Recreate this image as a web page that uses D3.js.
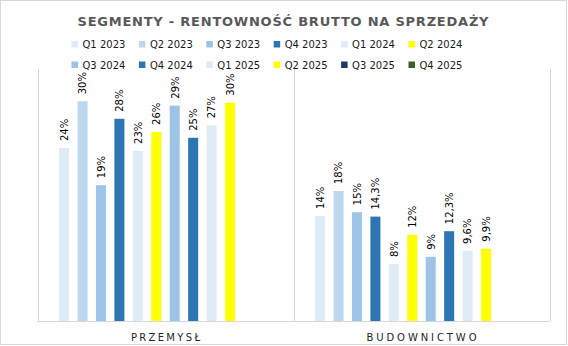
<!DOCTYPE html>
<html><head><meta charset="utf-8">
<script src="https://cdn.jsdelivr.net/npm/d3@7"></script>
<style>body{margin:0;background:#fff}svg{display:block}</style>
</head><body><svg id="c" width="568" height="346"></svg>
<script>
const categories = ["PRZEMYSŁ", "BUDOWNICTWO"];
const seriesNames = ["Q1 2023","Q2 2023","Q3 2023","Q4 2023","Q1 2024","Q2 2024","Q3 2024","Q4 2024","Q1 2025","Q2 2025","Q3 2025","Q4 2025"];
const seriesColors = ["#DEEBF7","#BDD7EE","#9DC3E6","#2E75B6","#DEEBF7","#FFFF00","#9DC3E6","#2E75B6","#DEEBF7","#FFFF00","#203864","#3A5F27"];
const przemyslValues = [23.7, 30.1, 18.6, 27.7, 23.3, 25.9, 29.5, 25.1, 26.8, 29.9, null, null];
const budownictwoValues = [14.4, 17.8, 14.9, 14.3, 7.8, 11.8, 8.8, 12.3, 9.6, 9.9, null, null];
const przemyslLabels = ["24%","30%","19%","28%","23%","26%","29%","25%","27%","30%","",""];
const budownictwoLabels = ["14%","18%","15%","14,3%","8%","12%","9%","12,3%","9,6%","9,9%","",""];
const yTicks = [0, 35];
const titleText = "SEGMENTY - RENTOWNOŚĆ BRUTTO NA SPRZEDAŻY";

const svg = d3.select("#c");
const font = "'DejaVu Sans', sans-serif";

svg.append("rect").attr("x",0.5).attr("y",0.5).attr("width",566).attr("height",344)
  .attr("fill","#fff").attr("stroke","#d9d9d9");

const x0 = d3.scaleBand().domain(categories).range([37.5, 549.5]);
const x1 = d3.scaleBand().domain(seriesNames).range([0, x0.bandwidth()]).paddingInner(0.457).paddingOuter(1.17);
const y = d3.scaleLinear().domain(yTicks).range([321, 321 - 35*7.3]);

// gridlines (category boundaries)
const bounds = categories.map(c => x0(c)).concat([x0(categories[categories.length-1]) + x0.bandwidth()]);
svg.append("g").selectAll("line").data(bounds).join("line")
  .attr("x1", d => Math.round(d)+0.5).attr("x2", d => Math.round(d)+0.5)
  .attr("y1", 69).attr("y2", 321).attr("stroke","#d9d9d9");
svg.append("line").attr("x1", bounds[0]).attr("x2", bounds[bounds.length-1])
  .attr("y1", 321.5).attr("y2", 321.5).attr("stroke","#d9d9d9");

const data = [];
categories.forEach((c, ci) => {
  const vals = ci === 0 ? przemyslValues : budownictwoValues;
  const labs = ci === 0 ? przemyslLabels : budownictwoLabels;
  seriesNames.forEach((s, si) => {
    if (vals[si] != null) data.push({c, s, si, v: vals[si], l: labs[si]});
  });
});

svg.append("g").selectAll("rect").data(data).join("rect")
  .attr("x", d => x0(d.c) + x1(d.s))
  .attr("y", d => y(d.v))
  .attr("width", x1.bandwidth())
  .attr("height", d => y(0) - y(d.v))
  .attr("fill", d => seriesColors[d.si]);

svg.append("g").selectAll("text").data(data).join("text")
  .attr("transform", d => `translate(${x0(d.c) + x1(d.s) + x1.bandwidth()/2 + 3.8},${y(d.v) - 7}) rotate(-90)`)
  .attr("font-family", font).attr("font-size", 10).attr("fill", "#000")
  .text(d => d.l);

// category labels
svg.append("g").selectAll("text").data(categories).join("text")
  .attr("x", d => x0(d) + x0.bandwidth()/2)
  .attr("y", 341)
  .attr("text-anchor","middle")
  .attr("font-family", font).attr("font-size", 10).attr("fill", "#262626")
  .attr("textLength", d => d === "PRZEMYSŁ" ? 69 : 110)
  .attr("lengthAdjust","spacing")
  .text(d => d);

// title
svg.append("text").attr("x", 283).attr("y", 25.5).attr("text-anchor","middle")
  .attr("font-family", font).attr("font-size", 13).attr("font-weight","bold")
  .attr("fill","#595959").attr("textLength", 411).attr("lengthAdjust","spacing")
  .text(titleText);

// legend
const legendX = d3.scaleLinear().domain([0, 5]).range([71.5, 408.5]);
const leg = svg.append("g").selectAll("g").data(seriesNames).join("g")
  .attr("transform", (d, i) => `translate(${legendX(i % 6)},${i < 6 ? 41 : 61.5})`);
leg.append("rect").attr("width", 6.5).attr("height", 6.5).attr("fill", (d, i) => seriesColors[i]);
leg.append("text").attr("x", 11).attr("y", 7).attr("font-family", font).attr("font-size", 10)
  .attr("fill", "#1a1a1a").text(d => d);
</script></body></html>
